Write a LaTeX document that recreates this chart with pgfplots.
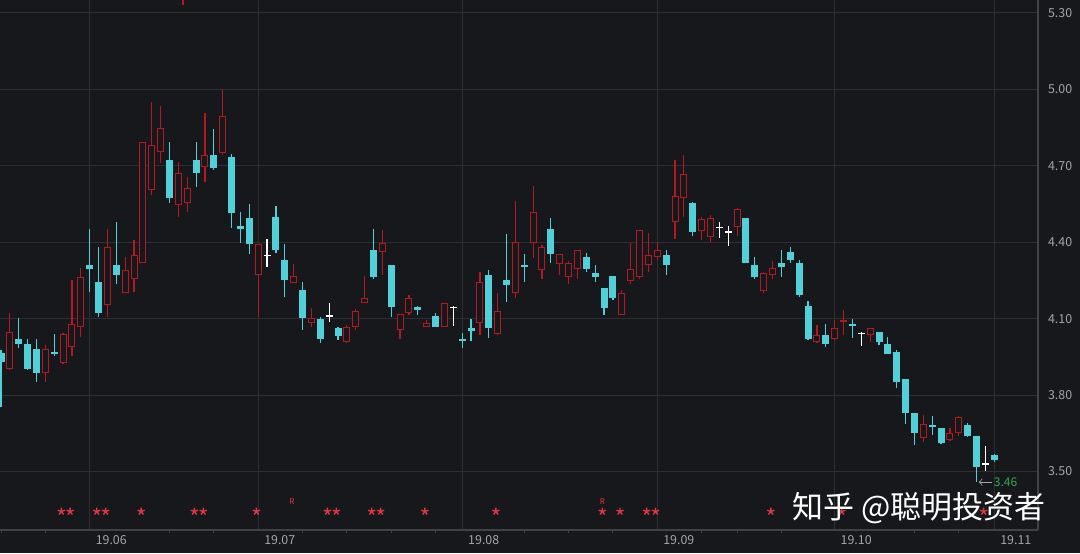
\documentclass[border=0pt]{standalone}
\usepackage{pgfplots}
\pgfplotsset{compat=1.18}
\usepackage{pgfplotstable}
\usepackage{fontspec}
\setmainfont{Noto Sans CJK SC}

\definecolor{bg}{RGB}{23,24,28}
\definecolor{gridc}{RGB}{44,46,51}
\definecolor{axisc}{RGB}{64,66,70}
\definecolor{upred}{RGB}{180,24,32}
\definecolor{downcyan}{RGB}{82,208,218}
\definecolor{labgray}{RGB}{165,165,165}
\definecolor{starred}{RGB}{226,54,66}
\definecolor{lowgreen}{RGB}{52,168,76}

% candles: index, low, body bottom, body top, high
\pgfplotstableread{
i l lo hi h
1 3.898 3.902 4.047 4.122
5 3.851 3.886 3.980 3.996
7 3.922 3.925 4.039 4.043
8 3.953 3.988 4.079 4.251
9 4.028 4.067 4.263 4.298
12 4.106 4.153 4.381 4.452
14 4.200 4.200 4.291 4.342
15 4.204 4.255 4.349 4.408
16 4.318 4.318 4.793 4.793
17 4.585 4.605 4.781 4.950
18 4.711 4.754 4.848 4.934
20 4.499 4.546 4.671 4.715
21 4.518 4.554 4.613 4.656
23 4.636 4.695 4.742 4.907
25 4.742 4.750 4.895 5.001
29 4.106 4.271 4.393 4.393
33 4.240 4.240 4.267 4.314
35 4.067 4.083 4.102 4.141
39 4.004 4.008 4.067 4.075
40 4.055 4.067 4.130 4.137
41 4.161 4.161 4.181 4.267
43 4.271 4.361 4.397 4.448
45 4.020 4.055 4.118 4.118
46 4.114 4.122 4.181 4.192
48 4.067 4.067 4.083 4.094
50 4.067 4.067 4.161 4.161
54 4.035 4.083 4.243 4.283
56 4.035 4.039 4.130 4.200
58 4.181 4.200 4.400 4.562
60 4.338 4.397 4.518 4.620
61 4.255 4.291 4.381 4.389
63 4.271 4.314 4.353 4.353
64 4.236 4.263 4.318 4.326
65 4.255 4.294 4.369 4.369
70 4.114 4.114 4.200 4.212
71 4.236 4.247 4.294 4.397
72 4.255 4.263 4.448 4.448
73 4.283 4.310 4.349 4.436
74 4.330 4.342 4.369 4.400
76 4.412 4.479 4.581 4.722
77 4.499 4.573 4.668 4.742
79 4.408 4.444 4.491 4.499
80 4.400 4.420 4.495 4.507
83 4.424 4.459 4.530 4.534
86 4.200 4.208 4.279 4.283
87 4.255 4.271 4.298 4.326
92 4.004 4.008 4.035 4.075
94 4.016 4.020 4.063 4.094
95 4.035 4.086 4.094 4.134
98 4.008 4.035 4.063 4.063
104 3.615 3.631 3.686 3.721
107 3.619 3.623 3.651 3.670
108 3.639 3.651 3.713 3.717
}\upcandles

\pgfplotstableread{
i l lo hi h
0 3.753 3.929 3.965 3.977
2 3.984 4.000 4.020 4.102
3 3.898 3.902 4.000 4.020
4 3.851 3.886 3.980 4.020
6 3.953 3.961 3.969 4.039
10 4.204 4.294 4.310 4.452
11 4.106 4.122 4.243 4.381
13 4.236 4.271 4.310 4.479
19 4.554 4.573 4.722 4.793
22 4.616 4.671 4.722 4.793
24 4.683 4.691 4.742 4.844
26 4.455 4.514 4.734 4.746
27 4.397 4.452 4.463 4.518
28 4.353 4.393 4.495 4.550
31 4.357 4.369 4.499 4.542
32 4.185 4.251 4.330 4.393
34 4.055 4.102 4.212 4.243
36 4.004 4.020 4.098 4.106
38 4.016 4.031 4.063 4.067
42 4.255 4.263 4.369 4.452
44 4.106 4.145 4.310 4.310
47 4.114 4.134 4.145 4.149
49 4.067 4.067 4.110 4.122
52 3.984 4.012 4.020 4.043
53 4.012 4.051 4.063 4.098
55 4.024 4.063 4.271 4.291
57 4.165 4.232 4.251 4.432
59 4.243 4.302 4.310 4.353
62 4.318 4.353 4.452 4.495
66 4.283 4.294 4.342 4.357
67 4.243 4.263 4.279 4.310
68 4.114 4.141 4.220 4.220
69 4.173 4.181 4.267 4.267
75 4.271 4.310 4.349 4.369
78 4.424 4.440 4.554 4.558
84 4.318 4.318 4.495 4.495
85 4.255 4.263 4.310 4.342
88 4.263 4.302 4.318 4.369
89 4.318 4.330 4.361 4.381
90 4.185 4.192 4.318 4.330
91 4.016 4.020 4.149 4.169
93 3.988 4.000 4.035 4.079
96 4.024 4.071 4.079 4.098
99 3.996 4.008 4.047 4.047
100 3.961 3.961 4.000 4.028
101 3.827 3.851 3.969 3.977
102 3.686 3.729 3.863 3.863
103 3.604 3.651 3.729 3.729
105 3.643 3.674 3.682 3.717
106 3.607 3.611 3.670 3.670
109 3.635 3.639 3.682 3.690
110 3.458 3.517 3.639 3.639
112 3.537 3.545 3.564 3.568
}\downcandles

% doji: index, low, close, high
\pgfplotstableread{
i l c h
30 4.302 4.349 4.412
37 4.086 4.110 4.161
51 4.071 4.145 4.149
81 4.416 4.459 4.479
82 4.385 4.440 4.463
97 3.992 4.043 4.047
111 3.501 3.529 3.600
}\dojis

\pgfplotsset{
  nomark/.style={only marks, mark=*, mark size=0pt, mark options={draw=none, fill=none}},
  wick/.style={nomark, error bars/.cd, y dir=minus, y explicit,
    error mark=none, error bar style={line width=0.6pt, draw=#1}},
  body/.style 2 args={nomark, error bars/.cd, y dir=plus, y explicit,
    error mark=none, error bar style={line width=#2, draw=#1}},
}

\begin{document}
\begin{tikzpicture}
\fill[bg] (0,0) rectangle (540pt,276.5pt);
\useasboundingbox (0,0) rectangle (540pt,276.5pt);
\begin{axis}[
    at={(0pt,11.5pt)}, anchor=south west,
    scale only axis, width=519pt, height=265pt,
    xmin=-0.113, xmax=116.93, ymin=3.270, ymax=5.351,
    axis x line*=bottom, axis y line*=right,
    axis line style={axisc, line width=0.6pt},
    xtick={10,29,52,74,94,112},
    xticklabels={19.06,19.07,19.08,19.09,19.10,19.11},
    ytick={3.5,3.8,4.1,4.4,4.7,5.0,5.3},
    yticklabels={3.50,3.80,4.10,4.40,4.70,5.00,5.30},
    minor xtick={0,5,19,24,34,39,44,49,59,64,69,79,83,88,103,108},
    major tick length=0pt, minor tick length=1.5pt, tick align=outside,
    minor tick style={axisc, line width=0.5pt},
    xmajorgrids, ymajorgrids,
    grid style={gridc, line width=0.5pt},
    ticklabel style={font=\fontsize{6.2}{6.2}\selectfont, text=labgray},
    xticklabel style={anchor=west, yshift=-5pt, xshift=-0.5pt},
    yticklabel style={anchor=west, xshift=1.5pt},
    /pgf/number format/assume math mode=true,
  ]
  % wicks
  \addplot[wick=upred] table[x=i, y=h, y error minus expr=\thisrow{h}-\thisrow{l}] {\upcandles};
  \addplot[wick=downcyan] table[x=i, y=h, y error minus expr=\thisrow{h}-\thisrow{l}] {\downcandles};
  \addplot[wick=white] table[x=i, y=h, y error minus expr=\thisrow{h}-\thisrow{l}] {\dojis};
  % bodies
  \addplot[body={upred}{3.5pt}] table[x=i, y=lo, y error plus expr=\thisrow{hi}-\thisrow{lo}] {\upcandles};
  \addplot[body={bg}{2.5pt}] table[x=i, y expr=\thisrow{lo}+0.004,
      y error plus expr={max(\thisrow{hi}-\thisrow{lo}-0.008,0)}] {\upcandles};
  \addplot[body={downcyan}{3.5pt}] table[x=i, y=lo, y error plus expr=\thisrow{hi}-\thisrow{lo}] {\downcandles};
  \addplot[nomark, error bars/.cd, x dir=both, x fixed=0.39,
      error mark=none, error bar style={line width=0.6pt, draw=white}]
      table[x=i, y=c] {\dojis};
  % signal marks at the bottom
  \addplot[only marks, mark=star, mark size=1.9pt, starred, mark options={line width=0.7pt}]
    coordinates {(6.8,3.343) (7.8,3.343) (10.8,3.343) (11.8,3.343) (15.8,3.343)
      (21.8,3.343) (22.8,3.343) (28.8,3.343) (36.8,3.343) (37.8,3.343)
      (41.8,3.343) (42.8,3.343) (47.8,3.343) (55.8,3.343) (67.8,3.343)
      (69.8,3.343) (72.8,3.343) (73.8,3.343) (86.8,3.343) (94.8,3.343) (110.8,3.343)};
  \addplot[only marks, mark=text, text mark={R}, text mark as node=true,
      text mark style={font=\fontsize{4}{4}\selectfont, text=starred, inner sep=0pt}]
    coordinates {(32.8,3.381) (67.8,3.381)};
  \addplot[upred, line width=0.8pt, mark=none] coordinates {(20.5,5.36) (20.5,5.332)};
  % lowest price label
  \draw[labgray, ->, line width=0.4pt] (axis cs:111.75,3.458) -- (axis cs:110.25,3.458);
  \node[anchor=west, text=lowgreen, font=\fontsize{6}{6}\selectfont, inner sep=0.5pt]
    at (axis cs:111.8,3.456) {3.46};
\end{axis}
\node[text=white, font=\fontsize{15.5}{16}\selectfont, inner sep=0pt] at (459.5pt,22.5pt) {知乎 @聪明投资者};
\end{tikzpicture}
\end{document}
